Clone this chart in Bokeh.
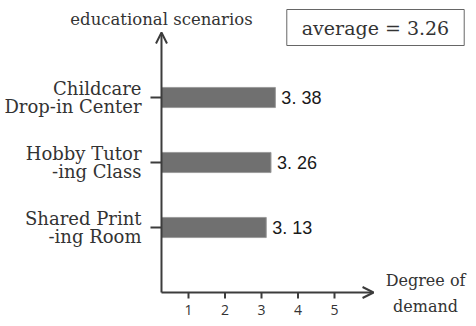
from bokeh.plotting import figure
from bokeh.models import Label, Arrow, OpenHead, ColumnDataSource, Range1d
from bokeh.core.properties import value
from bokeh.embed import file_html
from bokeh.resources import INLINE

# ---- data ----
scenarios = ["Shared Print\n-ing Room", "Hobby Tutor\n-ing Class", "Childcare\nDrop-in Center"]
demand = [3.13, 3.26, 3.38]
value_labels = ["3. 13", "3. 26", "3. 38"]
x_ticks = [1, 2, 3, 4, 5]
x_tick_labels = ["1", "2", "3", "4", "5"]
average_text = "average = 3.26"
y_title = "educational scenarios"
x_title = "Degree of\ndemand"

positions = list(range(1, len(scenarios) + 1))
axis_color = "#3c3c3c"
text_color = "#333333"
serif = "DejaVu Serif"

# layout of the drawing area (data units)
x0 = 0.26          # where the two axes cross
x_tip = 6.07       # end of the horizontal arrow
y_tip = 4.0        # end of the vertical arrow
px_x = 36.5        # pixels per x unit
px_y = 65.0        # pixels per y unit

W, H = 468, 318
xr = Range1d(1 - 188 / px_x, 1 + (W - 188) / px_x)
yr = Range1d(-(H - 292) / px_y, 292 / px_y)

p = figure(width=W, height=H, output_backend="svg", toolbar_location=None,
           x_range=xr, y_range=yr, min_border=0)
p.axis.visible = False
p.outline_line_color = None
p.xgrid.visible = False
p.ygrid.visible = False
p.background_fill_color = "white"
p.border_fill_color = "white"

# bars
src = ColumnDataSource(dict(pos=positions, demand=demand, vl=value_labels, cat=scenarios))
p.hbar(y="pos", left=x0, right="demand", height=0.31, source=src,
       fill_color="#707070", line_color="#9a9a9a", line_width=1)
p.text(x="demand", y="pos", text="vl", source=src, x_offset=6,
       text_baseline="middle", text_align="left",
       text_font=value("Liberation Sans"), text_font_size=value("18px"),
       text_color="#1a1a1a")

# axes lines with arrow heads
p.add_layout(Arrow(end=OpenHead(size=11, line_color=axis_color, line_width=2),
                   x_start=x0, y_start=0, x_end=x0, y_end=y_tip,
                   line_color=axis_color, line_width=2))
p.add_layout(Arrow(end=OpenHead(size=11, line_color=axis_color, line_width=2),
                   x_start=x0, y_start=0, x_end=x_tip, y_end=0,
                   line_color=axis_color, line_width=2))

# x ticks and labels
tsrc = ColumnDataSource(dict(t=x_ticks, lab=x_tick_labels,
                             y0=[0] * len(x_ticks), y1=[-6 / px_y] * len(x_ticks)))
p.segment(x0="t", y0="y0", x1="t", y1="y1", source=tsrc, line_color=axis_color, line_width=2)
p.text(x="t", y="y0", text="lab", source=tsrc, y_offset=17,
       text_align="center", text_baseline="middle",
       text_font=value("Open Sans"), text_font_size=value("14px"), text_color=text_color)

# y ticks and category labels
csrc = ColumnDataSource(dict(pos=positions, cat=scenarios,
                             xa=[x0 - 11 / px_x] * len(positions), xb=[x0] * len(positions)))
p.segment(x0="xa", y0="pos", x1="xb", y1="pos", source=csrc, line_color=axis_color, line_width=2)
p.text(x="xb", y="pos", text="cat", source=csrc, x_offset=-20,
       text_align="right", text_baseline="middle", text_line_height=0.9,
       text_font=value(serif), text_font_size=value("18px"), text_color=text_color)

# titles
p.add_layout(Label(x=x0, y=y_tip, y_offset=13, text=y_title,
                   text_align="center", text_baseline="middle",
                   text_font=serif, text_font_size="16.5px", text_color=text_color))
p.add_layout(Label(x=x_tip, y=0, x_offset=52, y_offset=-1, text=x_title,
                   text_align="center", text_baseline="middle",
                   text_font=serif, text_font_size="16px", text_color=text_color,
                   text_line_height=1.35))
p.add_layout(Label(x=1 + (375 - 188) / px_x, y=(292 - 27) / px_y, text=average_text,
                   text_align="center", text_baseline="middle",
                   text_font=serif, text_font_size="19px", text_color=text_color,
                   border_line_color="#666666", border_line_width=1,
                   background_fill_color="white", padding=(15, 7)))

open("out.html", "w").write(file_html(p, INLINE))
